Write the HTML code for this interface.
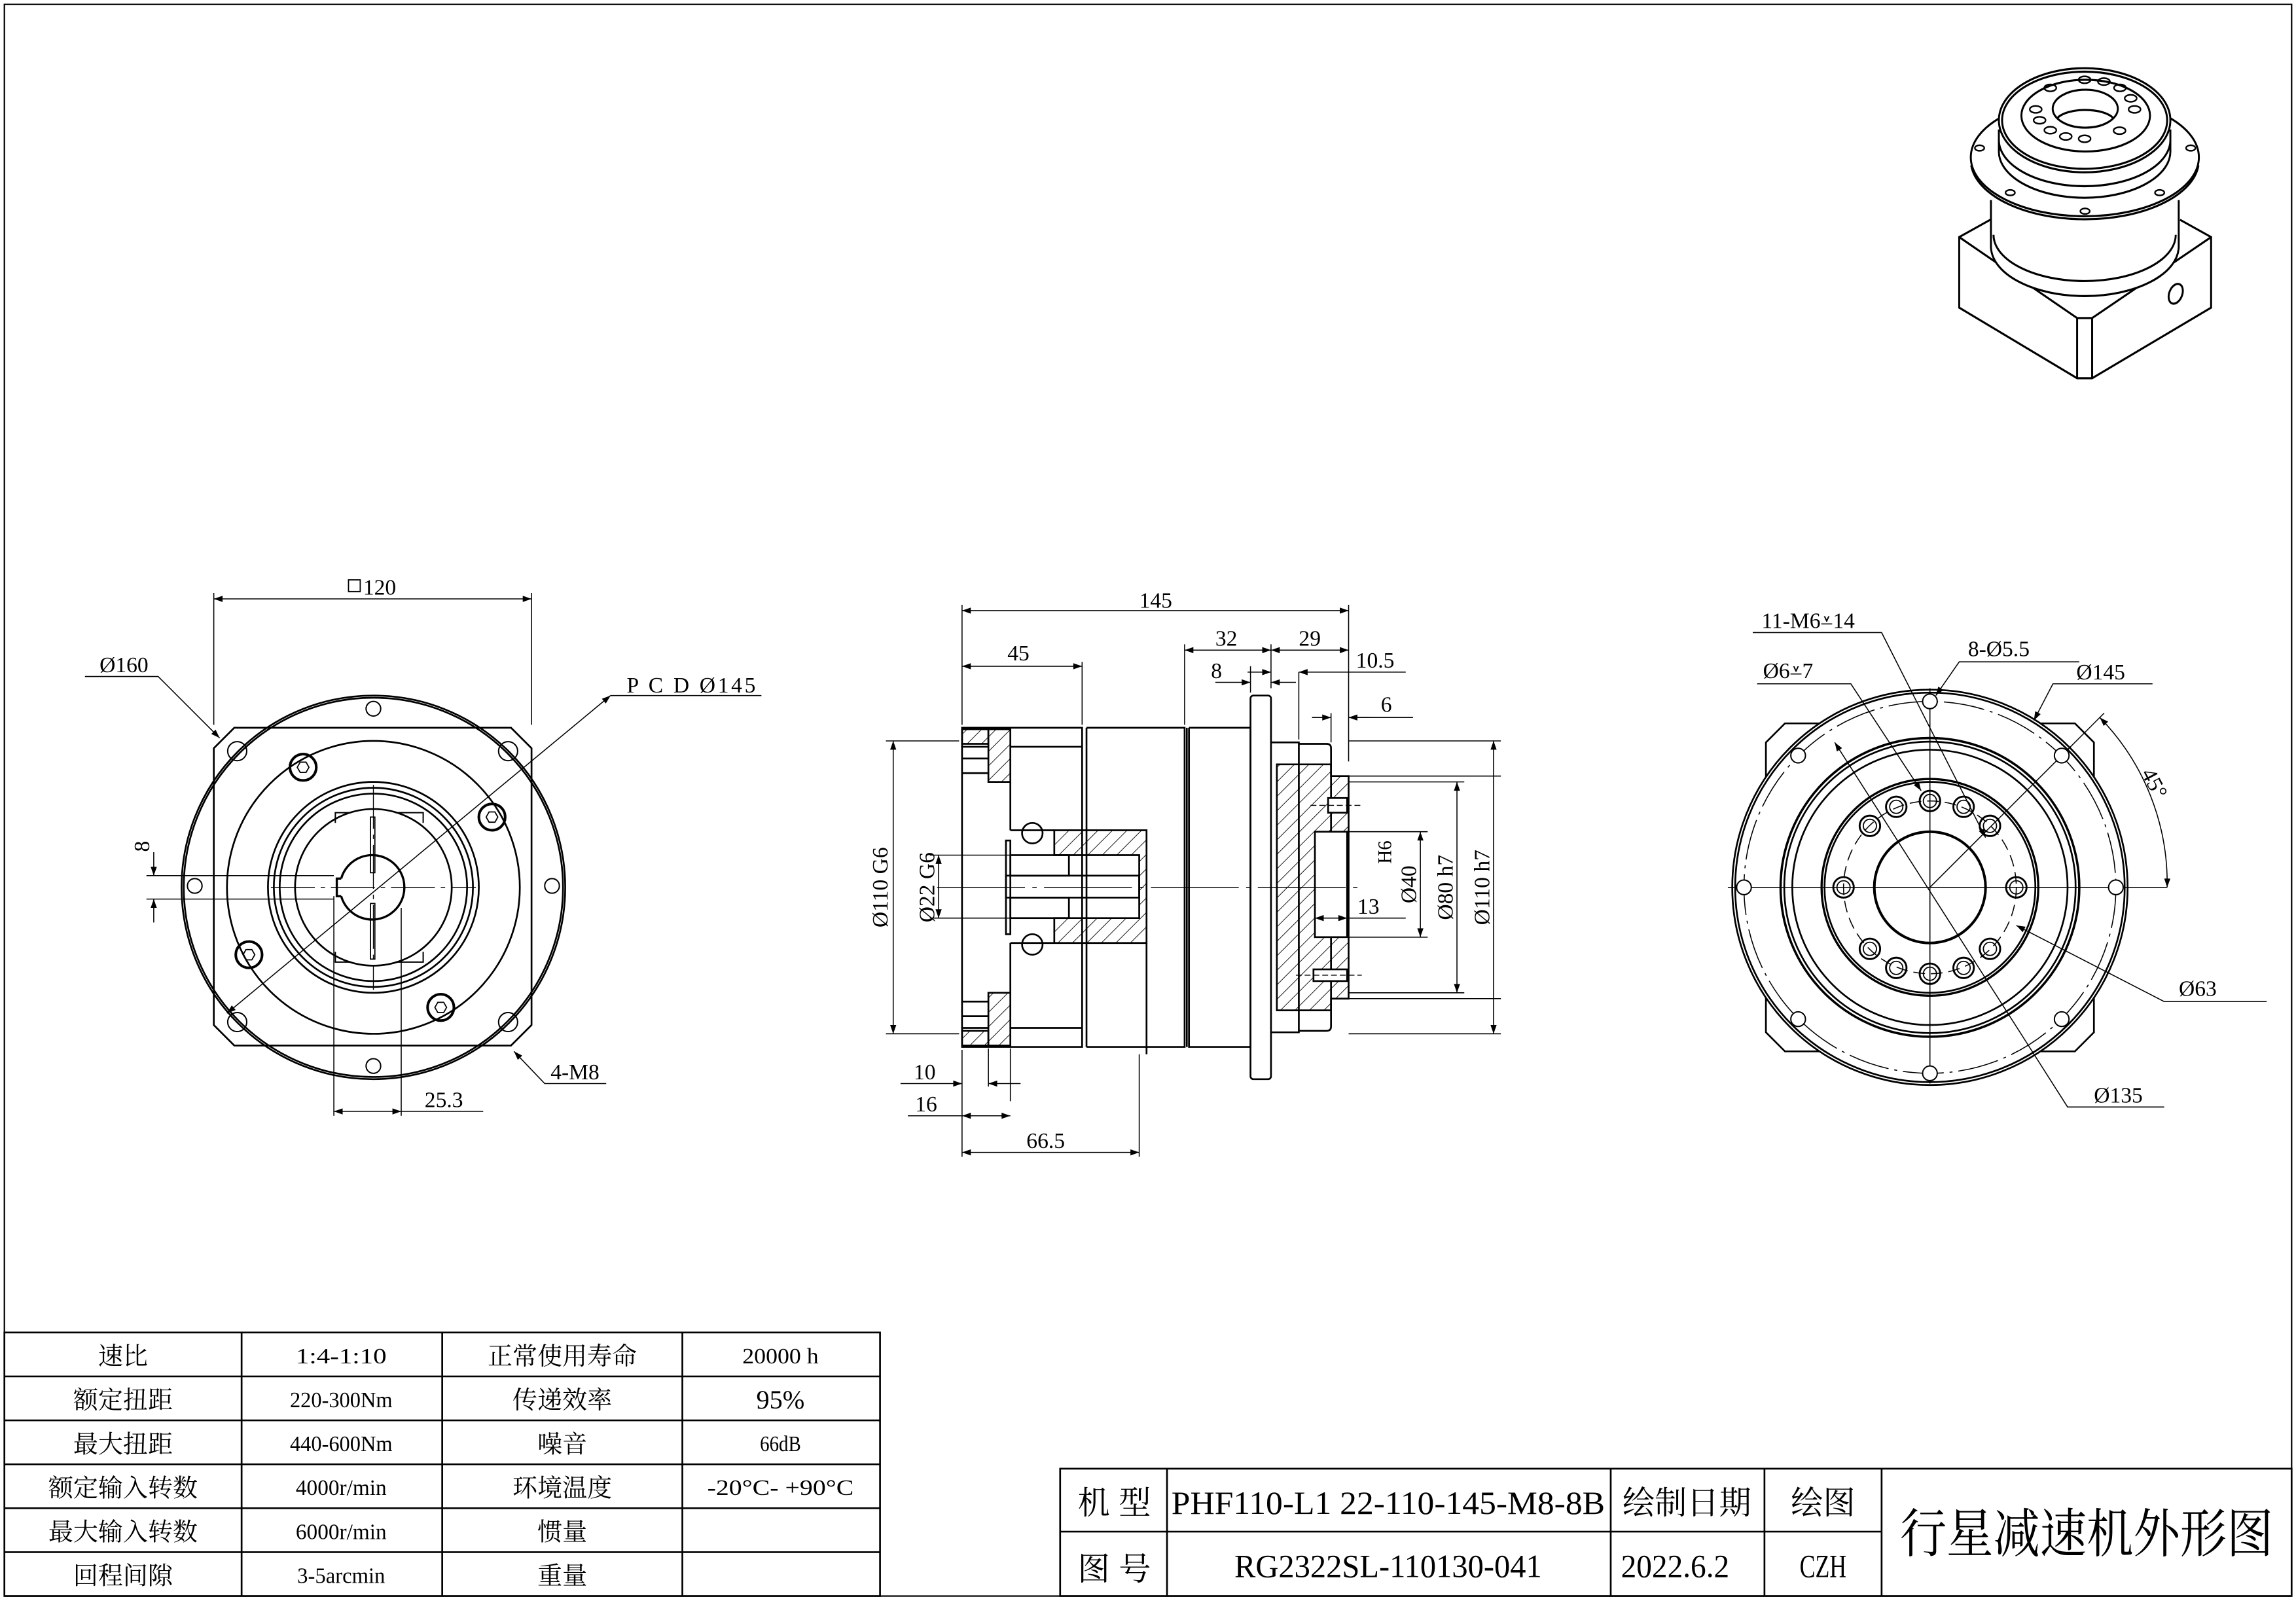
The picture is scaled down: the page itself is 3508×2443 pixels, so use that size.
<!DOCTYPE html>
<html><head><meta charset="utf-8"><style>
html,body{margin:0;padding:0;background:#fff}
svg{display:block}
text{font-family:"Liberation Serif","Noto Serif CJK SC",serif;fill:#000}
.c{font-family:"Liberation Sans","Noto Sans CJK SC",sans-serif}
</style></head><body>
<svg width="3508" height="2443" viewBox="0 0 1568 1092" preserveAspectRatio="none" xmlns="http://www.w3.org/2000/svg">
<defs>
<marker id="a" viewBox="0 0 10 10" refX="10" refY="5" markerWidth="9" markerHeight="6" orient="auto-start-reverse" markerUnits="userSpaceOnUse"><path d="M0,1.5 L10,5 L0,8.5z" fill="#000"/></marker>
<pattern id="h" patternUnits="userSpaceOnUse" width="7" height="7" patternTransform="rotate(45)"><line x1="0" y1="0" x2="0" y2="7" stroke="#000" stroke-width="0.8"/></pattern>
</defs>
<rect x="0" y="0" width="1568" height="1092" fill="#fff"/>
<rect x="3" y="3" width="1562" height="1087" fill="none" stroke="#000" stroke-width="1"/>

<g fill="none" stroke="#000" stroke-width="1">
<!-- ===== LEFT VIEW ===== -->
<g stroke-width="1.2">
<path d="M160,497 L349,497 L363,511 L363,700 L349,714 L160,714 L146,700 L146,511 Z"/>
<circle cx="255" cy="606" r="131"/><circle cx="255" cy="606" r="129.5"/>
<circle cx="255" cy="606" r="100"/>
<circle cx="255" cy="606" r="72"/><circle cx="255" cy="606" r="68"/><circle cx="255" cy="606" r="64"/><circle cx="255" cy="606" r="53.5"/>
<path d="M233,600 L230,600 L230,612 L233,612 M233,600 A22,22 0 1 1 233,612" stroke-width="1.5"/>
<path d="M229,562 L229,555 L240,555 M270,555 L289,555 L289,562 M229,650 L229,657 L240,657 M270,657 L289,657 L289,650" stroke-width="0.9"/>
<rect x="253" y="558" width="3" height="38" stroke-width="0.8"/><rect x="253" y="617" width="3" height="38" stroke-width="0.8"/>
</g>
<g stroke-width="0.9">
<circle cx="162" cy="513" r="6.5"/><circle cx="347" cy="513" r="6.5"/><circle cx="162" cy="698" r="6.5"/><circle cx="347" cy="698" r="6.5"/>
<circle cx="255" cy="484" r="5"/><circle cx="255" cy="728" r="5"/><circle cx="133" cy="605" r="5"/><circle cx="377" cy="605" r="5"/>
</g>
<g stroke-width="1.8">
<circle cx="207" cy="524" r="9"/><circle cx="336" cy="558" r="9"/><circle cx="170" cy="652" r="9"/><circle cx="301" cy="688" r="9"/>
</g>
<g stroke-width="0.8">
<polygon points="211,524 209,527.5 205,527.5 203,524 205,520.5 209,520.5"/>
<polygon points="340,558 338,561.5 334,561.5 332,558 334,554.5 338,554.5"/>
<polygon points="174,652 172,655.5 168,655.5 166,652 168,648.5 172,648.5"/>
<polygon points="305,688 303,691.5 299,691.5 297,688 299,684.5 303,684.5"/>
</g>
<g stroke-width="0.6" stroke-dasharray="30,4,3,4">
<line x1="185" y1="606" x2="325" y2="606"/><line x1="255" y1="536" x2="255" y2="676"/>
</g>
<!-- left view dims -->
<g stroke-width="0.7">
<line x1="146" y1="405" x2="146" y2="495"/><line x1="363" y1="405" x2="363" y2="495"/>
<line x1="146" y1="409" x2="363" y2="409" marker-start="url(#a)" marker-end="url(#a)"/>
<polyline points="58,462 108,462 150,504" marker-end="url(#a)"/>
<line x1="155" y1="692" x2="417" y2="475" marker-start="url(#a)" marker-end="url(#a)"/>
<polyline points="417,475 520,475"/>
<polyline points="414,740 372,740 351,718" marker-end="url(#a)"/>
<line x1="228" y1="612" x2="228" y2="762"/><line x1="274" y1="620" x2="274" y2="762"/>
<line x1="228" y1="759" x2="274" y2="759" marker-start="url(#a)" marker-end="url(#a)"/>
<line x1="274" y1="759" x2="330" y2="759"/>
<line x1="100" y1="598" x2="228" y2="598"/><line x1="100" y1="614" x2="228" y2="614"/>
<line x1="105" y1="582" x2="105" y2="598" marker-end="url(#a)"/><line x1="105" y1="630" x2="105" y2="614" marker-end="url(#a)"/>
</g>
<rect x="238" y="396" width="8" height="8" stroke-width="0.8"/>
</g>
<g font-size="15">
<text x="248" y="406">120</text>
<text x="68" y="459">Ø160</text>
<text x="428" y="473" textLength="88" lengthAdjust="spacing">P C D Ø145</text>
<text x="376" y="737">4-M8</text>
<text x="290" y="756">25.3</text>
<text x="102" y="578" transform="rotate(-90 102 578)" text-anchor="middle">8</text>
</g>

<!-- ===== MIDDLE VIEW ===== -->
<g fill="none" stroke="#000" stroke-width="1.2">
<rect x="675" y="498" width="15" height="36" fill="url(#h)"/>
<rect x="675" y="678" width="15" height="36" fill="url(#h)"/>
<rect x="657" y="498" width="18" height="10" fill="url(#h)"/>
<rect x="657" y="704" width="18" height="10" fill="url(#h)"/>
<path d="M720,567 L783,567 L783,644 L720,644 L720,627 L778,627 L778,584 L720,584 Z" fill="url(#h)"/>
<path d="M657,497 L739,497 L739,715 L657,715 Z"/>
<line x1="742" y1="497" x2="742" y2="715"/>
<path d="M742,497 L809,497 L809,715 L742,715"/>
<path d="M812,497 L854,497 L854,715 L812,715 L812,497"/>
<line x1="810.5" y1="497" x2="810.5" y2="715"/>
<line x1="690" y1="510" x2="739" y2="510"/><line x1="690" y1="702" x2="739" y2="702"/>
<line x1="690" y1="534" x2="690" y2="567"/><line x1="690" y1="567" x2="720" y2="567"/>
<line x1="690" y1="644" x2="690" y2="678"/><line x1="690" y1="644" x2="720" y2="644"/>
<line x1="657" y1="510" x2="675" y2="510"/><line x1="657" y1="518" x2="675" y2="518"/><line x1="657" y1="528" x2="675" y2="528"/>
<line x1="657" y1="684" x2="675" y2="684"/><line x1="657" y1="694" x2="675" y2="694"/><line x1="657" y1="702" x2="675" y2="702"/>
<rect x="687" y="574" width="3" height="64"/>
<rect x="690" y="584" width="40" height="14"/><rect x="690" y="613" width="40" height="14"/>
<rect x="687" y="598" width="91" height="15"/>
<circle cx="705" cy="569" r="7"/><circle cx="705" cy="645" r="7"/>
<rect x="854" y="475" width="14" height="262" rx="2"/>
<path d="M868,507 L887,507 L887,705 L868,705"/>
<path d="M887,508 L906,508 Q909,508 909,511 L909,701 Q909,704 906,704 L887,704"/>
<path d="M872,522 L909,522 L909,530 L921,530 L921,682 L909,682 L909,690 L872,690 Z" fill="url(#h)"/>
<rect x="898" y="568" width="22" height="72" fill="#fff"/>
<rect x="907" y="545" width="13" height="10" fill="#fff"/>
<rect x="897" y="662" width="23" height="8" fill="#fff"/>
<line x1="783" y1="644" x2="783" y2="720"/>
</g>
<g stroke="#000" stroke-width="0.6" fill="none">
<line x1="640" y1="606" x2="930" y2="606" stroke-dasharray="60,5,3,5"/>
<line x1="895" y1="550" x2="930" y2="550" stroke-dasharray="4,2"/>
<line x1="885" y1="666" x2="930" y2="666" stroke-dasharray="4,2"/>
</g>
<!-- middle dims -->
<g fill="none" stroke="#000" stroke-width="0.7">
<line x1="657" y1="413" x2="657" y2="495"/><line x1="921" y1="413" x2="921" y2="520"/>
<line x1="657" y1="417" x2="921" y2="417" marker-start="url(#a)" marker-end="url(#a)"/>
<line x1="739" y1="452" x2="739" y2="495"/>
<line x1="657" y1="455" x2="739" y2="455" marker-start="url(#a)" marker-end="url(#a)"/>
<line x1="809" y1="440" x2="809" y2="495"/><line x1="868" y1="440" x2="868" y2="470"/><line x1="854" y1="455" x2="854" y2="473"/>
<line x1="809" y1="444" x2="868" y2="444" marker-start="url(#a)" marker-end="url(#a)"/>
<line x1="868" y1="444" x2="921" y2="444" marker-start="url(#a)" marker-end="url(#a)"/>
<line x1="830" y1="466" x2="854" y2="466" marker-end="url(#a)"/><line x1="885" y1="466" x2="868" y2="466" marker-end="url(#a)"/>
<line x1="887" y1="459" x2="887" y2="505"/>
<line x1="960" y1="459" x2="887" y2="459" marker-end="url(#a)"/><line x1="852" y1="459" x2="868" y2="459" marker-end="url(#a)"/>
<line x1="909" y1="487" x2="909" y2="507"/>
<line x1="896" y1="490" x2="909" y2="490" marker-end="url(#a)"/><line x1="935" y1="490" x2="921" y2="490" marker-end="url(#a)"/>
<line x1="921" y1="490" x2="965" y2="490"/>
<line x1="605" y1="506" x2="655" y2="506"/><line x1="605" y1="706" x2="655" y2="706"/>
<line x1="610" y1="506" x2="610" y2="706" marker-start="url(#a)" marker-end="url(#a)"/>
<line x1="635" y1="584" x2="690" y2="584"/><line x1="635" y1="627" x2="690" y2="627"/>
<line x1="641" y1="584" x2="641" y2="627" marker-start="url(#a)" marker-end="url(#a)"/>
<line x1="921" y1="530" x2="1025" y2="530"/><line x1="921" y1="682" x2="1025" y2="682"/>
<line x1="1020" y1="506" x2="1020" y2="706" marker-start="url(#a)" marker-end="url(#a)"/>
<line x1="921" y1="506" x2="1025" y2="506"/><line x1="921" y1="706" x2="1025" y2="706"/>
<line x1="921" y1="534" x2="1000" y2="534"/><line x1="921" y1="678" x2="1000" y2="678"/>
<line x1="995" y1="534" x2="995" y2="678" marker-start="url(#a)" marker-end="url(#a)"/>
<line x1="920" y1="568" x2="975" y2="568"/><line x1="920" y1="640" x2="975" y2="640"/>
<line x1="970" y1="568" x2="970" y2="640" marker-start="url(#a)" marker-end="url(#a)"/>
<line x1="898" y1="627" x2="920" y2="627" marker-start="url(#a)" marker-end="url(#a)"/>
<line x1="920" y1="627" x2="960" y2="627"/>
<line x1="657" y1="717" x2="657" y2="790"/><line x1="675" y1="716" x2="675" y2="742"/><line x1="690" y1="716" x2="690" y2="752"/>
<line x1="615" y1="740" x2="657" y2="740" marker-end="url(#a)"/><line x1="697" y1="740" x2="675" y2="740" marker-end="url(#a)"/>
<line x1="620" y1="762" x2="657" y2="762"/><line x1="657" y1="762" x2="690" y2="762" marker-start="url(#a)" marker-end="url(#a)"/>
<line x1="778" y1="720" x2="778" y2="790"/>
<line x1="657" y1="787" x2="778" y2="787" marker-start="url(#a)" marker-end="url(#a)"/>
</g>
<g font-size="15">
<text x="778" y="415">145</text>
<text x="688" y="451">45</text>
<text x="830" y="441">32</text>
<text x="887" y="441">29</text>
<text x="827" y="463">8</text>
<text x="926" y="456">10.5</text>
<text x="943" y="486">6</text>
<text x="927" y="624">13</text>
<text x="624" y="737">10</text>
<text x="625" y="759">16</text>
<text x="701" y="784">66.5</text>
<text transform="translate(606 606) rotate(-90)" text-anchor="middle">Ø110 G6</text>
<text transform="translate(638 606) rotate(-90)" text-anchor="middle">Ø22 G6</text>
<text transform="translate(950 582) rotate(-90)" text-anchor="middle" font-size="13">H6</text>
<text transform="translate(967 604) rotate(-90)" text-anchor="middle">Ø40</text>
<text transform="translate(992 606) rotate(-90)" text-anchor="middle">Ø80 h7</text>
<text transform="translate(1017 606) rotate(-90)" text-anchor="middle">Ø110 h7</text>
</g>

<!-- ===== RIGHT VIEW ===== -->
<g fill="none" stroke="#000" stroke-width="1.2">
<path d="M1219,494 L1417,494 L1430,507 L1430,705 L1417,718 L1219,718 L1206,705 L1206,507 Z"/>
<circle cx="1318" cy="606" r="135" fill="#fff"/><circle cx="1318" cy="606" r="133"/>
<circle cx="1318" cy="606" r="102" stroke-width="1.6"/><circle cx="1318" cy="606" r="99.5"/>
<circle cx="1318" cy="606" r="94"/>
<circle cx="1318" cy="606" r="74" stroke-width="1.5"/><circle cx="1318" cy="606" r="72"/>
<circle cx="1318" cy="606" r="38" stroke-width="1.8"/>
</g>
<g fill="none" stroke="#000" stroke-width="0.7">
<circle cx="1318" cy="606" r="127" stroke-dasharray="28,4,2,4"/>
<circle cx="1318" cy="606" r="59" stroke-dasharray="8,4"/>
<line x1="1180" y1="606" x2="1445" y2="606"/><line x1="1318" y1="470" x2="1318" y2="740"/>
<line x1="1318" y1="606" x2="1437" y2="487"/>
</g>
<g fill="#fff" stroke="#000" stroke-width="0.9">
<circle cx="1318" cy="479" r="5"/><circle cx="1318" cy="733" r="5"/><circle cx="1191" cy="606" r="5"/><circle cx="1445" cy="606" r="5"/>
<circle cx="1228" cy="516" r="5"/><circle cx="1408" cy="516" r="5"/><circle cx="1228" cy="696" r="5"/><circle cx="1408" cy="696" r="5"/>
</g>
<g fill="none" stroke="#000" stroke-width="1.3">
<circle cx="1318" cy="547" r="7"/><circle cx="1341" cy="551" r="7"/><circle cx="1359" cy="564" r="7"/><circle cx="1377" cy="606" r="7"/>
<circle cx="1359" cy="648" r="7"/><circle cx="1341" cy="661" r="7"/><circle cx="1318" cy="665" r="7"/><circle cx="1295" cy="661" r="7"/>
<circle cx="1277" cy="648" r="7"/><circle cx="1259" cy="606" r="7"/><circle cx="1277" cy="564" r="7"/><circle cx="1295" cy="551" r="7"/>
</g>
<g fill="none" stroke="#000" stroke-width="0.8">
<circle cx="1318" cy="547" r="4.5"/><circle cx="1341" cy="551" r="4.5"/><circle cx="1359" cy="564" r="4.5"/><circle cx="1377" cy="606" r="4.5"/>
<circle cx="1359" cy="648" r="4.5"/><circle cx="1341" cy="661" r="4.5"/><circle cx="1318" cy="665" r="4.5"/><circle cx="1295" cy="661" r="4.5"/>
<circle cx="1277" cy="648" r="4.5"/><circle cx="1259" cy="606" r="4.5"/><circle cx="1277" cy="564" r="4.5"/><circle cx="1295" cy="551" r="4.5"/>
</g>
<g fill="none" stroke="#000" stroke-width="0.7">
<polyline points="1197,432 1285,432 1356,572" marker-end="url(#a)"/>
<polyline points="1200,467 1264,467 1312,540" marker-end="url(#a)"/>
<polyline points="1420,452 1338,452 1322,475" marker-end="url(#a)"/>
<polyline points="1470,467 1402,467 1389,492" marker-end="url(#a)"/>
<polyline points="1548,684 1478,684 1377,632" marker-end="url(#a)"/>
<line x1="1384" y1="712" x2="1253" y2="507" marker-end="url(#a)"/>
<polyline points="1384,712 1412,756 1478,756"/>
<line x1="1480" y1="606" x2="1450" y2="606"/>
<path d="M1434,490 A162,162 0 0 1 1480,606" marker-start="url(#a)" marker-end="url(#a)"/>
</g>
<g font-size="15">
<text x="1203" y="429">11-M6⩡14</text>
<text x="1344" y="448">8-Ø5.5</text>
<text x="1204" y="463">Ø6⩡7</text>
<text x="1418" y="464">Ø145</text>
<text x="1488" y="680">Ø63</text>
<text x="1430" y="753">Ø135</text>
<text transform="translate(1462 528) rotate(62)">45°</text>
</g>

<!-- ===== ISO VIEW ===== -->
<g transform="translate(1338,45) scale(0.1464,0.158) translate(-140,-150)" fill="none" stroke="#000" stroke-width="9">
<path d="M285,815 L140,890 L140,1195 L690,1500 L760,1500 L1315,1195 L1315,890 L1170,815"/>
<path d="M140,890 L690,1240 L760,1240 L1315,890"/>
<line x1="690" y1="1240" x2="690" y2="1500"/><line x1="760" y1="1240" x2="760" y2="1500"/>
<path d="M288,730 L288,930 A438,215 0 0 0 1164,930 L1164,730" fill="#fff"/>
<path d="M300,880 A425,200 0 0 0 1150,880"/>
<ellipse cx="1150" cy="1135" rx="30" ry="45" transform="rotate(25 1150 1135)"/>
<ellipse cx="726" cy="545" rx="532" ry="255" fill="#fff"/>
<path d="M196,580 A532,255 0 0 0 1256,580"/>
<path d="M325,425 L325,520 A400,200 0 0 0 1125,520 L1125,425" fill="#fff"/>
<path d="M325,470 A400,200 0 0 0 1125,470"/>
<ellipse cx="725" cy="385" rx="400" ry="225" fill="#fff"/>
<ellipse cx="725" cy="385" rx="385" ry="210"/>
<ellipse cx="730" cy="365" rx="300" ry="155"/>
<ellipse cx="728" cy="335" rx="152" ry="82"/>
<path d="M598,375 A140,55 0 0 1 858,375"/>
<g stroke-width="7">
<ellipse cx="725" cy="210" rx="28" ry="15"/><ellipse cx="815" cy="218" rx="28" ry="15"/><ellipse cx="890" cy="245" rx="28" ry="15"/>
<ellipse cx="940" cy="290" rx="28" ry="15"/><ellipse cx="958" cy="338" rx="28" ry="15"/><ellipse cx="888" cy="430" rx="28" ry="15"/>
<ellipse cx="725" cy="465" rx="28" ry="15"/><ellipse cx="637" cy="455" rx="28" ry="15"/><ellipse cx="565" cy="428" rx="28" ry="15"/>
<ellipse cx="515" cy="385" rx="28" ry="15"/><ellipse cx="497" cy="338" rx="28" ry="15"/><ellipse cx="565" cy="245" rx="28" ry="15"/>
<ellipse cx="235" cy="505" rx="22" ry="12"/><ellipse cx="1220" cy="505" rx="22" ry="12"/><ellipse cx="378" cy="698" rx="22" ry="12"/>
<ellipse cx="1075" cy="698" rx="22" ry="12"/><ellipse cx="727" cy="778" rx="22" ry="12"/>
</g>
</g>

<!-- ===== PARAM TABLE ===== -->
<g fill="none" stroke="#000" stroke-width="1.2">
<rect x="3" y="910" width="598" height="180"/>
<line x1="3" y1="940" x2="601" y2="940"/><line x1="3" y1="970" x2="601" y2="970"/><line x1="3" y1="1000" x2="601" y2="1000"/>
<line x1="3" y1="1030" x2="601" y2="1030"/><line x1="3" y1="1060" x2="601" y2="1060"/>
<line x1="165" y1="910" x2="165" y2="1090"/><line x1="302" y1="910" x2="302" y2="1090"/><line x1="466" y1="910" x2="466" y2="1090"/>
</g>
<g class="c" font-size="17" text-anchor="middle">
<text x="84" y="932">速比</text><text x="84" y="962">额定扭距</text><text x="84" y="992">最大扭距</text>
<text x="84" y="1022">额定输入转数</text><text x="84" y="1052">最大输入转数</text><text x="84" y="1082">回程间隙</text>
<text x="384" y="932">正常使用寿命</text><text x="384" y="962">传递效率</text><text x="384" y="992">噪音</text>
<text x="384" y="1022">环境温度</text><text x="384" y="1052">惯量</text><text x="384" y="1082">重量</text>
</g>
<g class="c" font-size="15" text-anchor="middle">
<text x="233" y="931" textLength="62" lengthAdjust="spacingAndGlyphs">1:4-1:10</text>
<text x="233" y="961" textLength="70" lengthAdjust="spacingAndGlyphs">220-300Nm</text>
<text x="233" y="991" textLength="70" lengthAdjust="spacingAndGlyphs">440-600Nm</text>
<text x="233" y="1021" textLength="62" lengthAdjust="spacingAndGlyphs">4000r/min</text>
<text x="233" y="1051" textLength="62" lengthAdjust="spacingAndGlyphs">6000r/min</text>
<text x="233" y="1081" textLength="60" lengthAdjust="spacingAndGlyphs">3-5arcmin</text>
<text x="533" y="931" textLength="52" lengthAdjust="spacingAndGlyphs">20000 h</text>
<text x="533" y="962" font-size="18">95%</text>
<text x="533" y="991" textLength="28" lengthAdjust="spacingAndGlyphs">66dB</text>
<text x="533" y="1021" textLength="100" lengthAdjust="spacingAndGlyphs">-20°C- +90°C</text>
</g>

<!-- ===== TITLE BLOCK ===== -->
<g fill="none" stroke="#000" stroke-width="1.2">
<rect x="724" y="1003" width="841" height="87"/>
<line x1="724" y1="1046" x2="1285" y2="1046"/>
<line x1="797" y1="1003" x2="797" y2="1090"/><line x1="1100" y1="1003" x2="1100" y2="1090"/>
<line x1="1205" y1="1003" x2="1205" y2="1090"/><line x1="1285" y1="1003" x2="1285" y2="1090"/>
</g>
<g class="c" font-size="22" text-anchor="middle">
<text x="761" y="1034" textLength="50" lengthAdjust="spacing">机 型</text>
<text x="761" y="1079" textLength="50" lengthAdjust="spacing">图 号</text>
<text x="948" y="1034" textLength="296" lengthAdjust="spacingAndGlyphs">PHF110-L1 22-110-145-M8-8B</text>
<text x="948" y="1077" textLength="210" lengthAdjust="spacingAndGlyphs">RG2322SL-110130-041</text>
<text x="1152" y="1034" textLength="88" lengthAdjust="spacingAndGlyphs">绘制日期</text>
<text x="1245" y="1034" textLength="44" lengthAdjust="spacingAndGlyphs">绘图</text>
<text x="1144" y="1077" textLength="74" lengthAdjust="spacingAndGlyphs">2022.6.2</text>
<text x="1245" y="1077" textLength="32" lengthAdjust="spacingAndGlyphs">CZH</text>
<text x="1425" y="1060" font-size="36" textLength="255" lengthAdjust="spacingAndGlyphs">行星减速机外形图</text>
</g>
</svg>
</body></html>
